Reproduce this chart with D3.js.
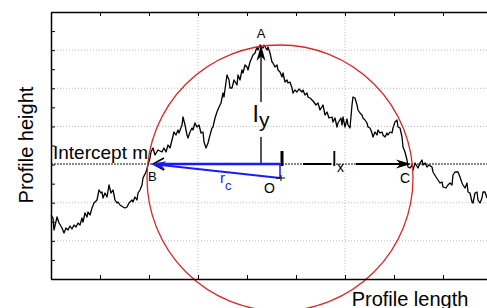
<!DOCTYPE html>
<html><head><meta charset="utf-8">
<script src="https://cdn.jsdelivr.net/npm/d3@7"></script>
<style>body{margin:0;background:#fff}svg{display:block}text{font-family:"Liberation Sans",Arial,sans-serif}</style>
</head><body>
<script>
// profile (x: profile length units, y: profile height units)
const profileX = [0,2,3,6,8,11,13,15,17,19,21,23,25,27,29,31,32,34,36,37,39,41,43,46,48,50,51,52,54,56,58,60,62,64,66,67,69,72,74,76,78,81,82,84,86,87,89,91,92,95,97,99,100,102,104,107,111,113,115,117,119,121,123,125,127,128,131,132,134,136,137,139,141,142,144,146,148,150,152,153,155,157,159,161,162,164,166,168,170,172,173,175,176,178,179,181,183,186,187,189,191,192,194,196,197,199,202,204,206,207,209,212,213,216,217,219,221,222,224,226,227,229,231,232,234,236,237,239,241,242,244,246,248,251,252,254,256,257,259,262,265,267,269,272,274,276,278,281,282,284,286,287,290,291,292,294,296,297,299,301,302,304,306,307,309,311,312,314,316,317,319,321,322,324,326,327,329,331,332,334,336,337,339,341,342,344,346,347,349,351,352,354,356,357,359,361,362,364,367,369,371,372,374,376,378,381,382,385,387,389,391,392,395,397,399,401,402,404,407,409,411,412,414,416,417,419,421,422,424,426,427,429,431,432,434,436];
const profileY = [64,61,49,62,56,51,46,51,49,53,50,54,52,56,54,61,57,66,62,67,64,71,76,79,89,86,87,81,86,82,94,86,89,79,76,77,74,72,71,72,76,79,77,82,79,86,89,94,101,107,114,121,127,131,124,129,127,131,127,134,131,139,147,144,149,146,154,162,154,144,141,147,151,149,156,152,154,146,147,137,131,136,144,151,152,161,167,172,176,186,182,197,204,199,191,191,199,194,204,199,209,206,214,212,209,217,224,226,232,229,234,231,234,229,232,226,217,216,212,214,209,207,202,206,197,199,196,197,191,186,189,187,190,187,189,184,186,182,181,178,174,176,169,174,164,167,161,162,157,161,152,156,161,154,162,152,160,154,151,174,182,181,174,169,166,164,161,159,156,152,151,146,142,147,144,149,146,147,144,142,146,144,147,146,151,157,159,152,151,142,132,127,119,112,111,114,109,116,111,116,119,114,116,112,114,112,107,102,99,96,97,92,91,94,96,94,104,107,107,102,96,94,91,96,87,86,77,76,86,87,79,76,81,87,87,81];

const interceptM = 115;
const pointA = [210, 234];
const pointB = [99, 115];
const pointC = [359, 115];
const centerO = [229, 101];
const radiusC = 133;
const xDomain = [0, 441];
const yDomain = [0, 267];
const xTickValues = d3.range(0, 442, 49);
const xGridValues = [147, 294];
const yGridValues = [1,2,3,4,5,6].map(k => k * 267 / 7);
const yTickValues = d3.range(0, 15).map(k => k * 267 / 14);

const W = 487, H = 308;
const svg = d3.select("body").append("svg").attr("width", W).attr("height", H);
const x = d3.scaleLinear().domain(xDomain).range([51, 492]);
const y = d3.scaleLinear().domain(yDomain).range([279, 12]);

// grid
svg.append("g").selectAll("line").data(xGridValues).join("line")
  .attr("x1", d => x(d)).attr("x2", d => x(d)).attr("y1", y(0)).attr("y2", y(267))
  .attr("stroke", "#bbb").attr("stroke-width", 1).attr("stroke-dasharray", "1,2");
svg.append("g").selectAll("line").data(yGridValues).join("line")
  .attr("x1", x(0)).attr("x2", W).attr("y1", d => y(d)).attr("y2", d => y(d))
  .attr("stroke", "#bbb").attr("stroke-width", 1).attr("stroke-dasharray", "1,2");

// intercept line
svg.append("line").attr("x1", x(0)).attr("x2", W).attr("y1", y(interceptM)).attr("y2", y(interceptM))
  .attr("stroke", "#666").attr("stroke-width", 1.5).attr("stroke-dasharray", "2,1");

// profile
const line = d3.line().x((d, i) => x(profileX[i])).y(d => y(d));
svg.append("path").datum(profileY).attr("d", line).attr("fill", "none")
  .attr("stroke", "#000").attr("stroke-width", 1.3).attr("stroke-linejoin", "round");

// circle
svg.append("circle").attr("cx", x(centerO[0])).attr("cy", y(centerO[1]))
  .attr("r", x(radiusC) - x(0)).attr("fill", "none").attr("stroke", "#d42a2a").attr("stroke-width", 1.3);

function arrowHead(tx, ty, dx, dy, L, w, color) {
  const bx = tx - dx * L, by = ty - dy * L;
  const nx = -dy, ny = dx;
  const ix = tx - dx * L * 0.7, iy = ty - dy * L * 0.7;
  svg.append("path")
    .attr("d", `M${tx},${ty}L${bx + nx * w},${by + ny * w}L${ix},${iy}L${bx - nx * w},${by - ny * w}Z`)
    .attr("fill", color);
}

// l_y arrow (gray)
const ax = x(pointA[0]);
svg.append("line").attr("x1", ax).attr("x2", ax).attr("y1", y(interceptM)).attr("y2", y(142))
  .attr("stroke", "#555").attr("stroke-width", 2);
svg.append("line").attr("x1", ax).attr("x2", ax).attr("y1", y(177)).attr("y2", y(pointA[1]) + 10)
  .attr("stroke", "#555").attr("stroke-width", 2);
arrowHead(ax, y(pointA[1]), 0, -1, 16, 4.5, "#000");

// l_x arrow (black)
svg.append("line").attr("x1", x(231)).attr("x2", x(231)).attr("y1", y(128)).attr("y2", y(113))
  .attr("stroke", "#000").attr("stroke-width", 3);
svg.append("line").attr("x1", x(252)).attr("x2", x(280)).attr("y1", y(interceptM)).attr("y2", y(interceptM))
  .attr("stroke", "#000").attr("stroke-width", 2);
svg.append("line").attr("x1", x(305)).attr("x2", x(pointC[0]) - 8).attr("y1", y(interceptM)).attr("y2", y(interceptM))
  .attr("stroke", "#000").attr("stroke-width", 2);
arrowHead(x(pointC[0]) + 1, y(interceptM), 1, 0, 15, 4.5, "#000");
// black chevron at B
const bx = x(pointB[0]) + 3, by = y(interceptM);
svg.append("path").attr("d", `M${bx + 11},${by - 6}L${bx},${by}L${bx + 11},${by + 6}`)
  .attr("fill", "none").attr("stroke", "#000").attr("stroke-width", 1.5);

// blue r_c construction
const blue = "#1a1aff";
svg.append("line").attr("x1", x(pointB[0]) + 8).attr("x2", x(centerO[0])).attr("y1", y(interceptM)).attr("y2", y(interceptM))
  .attr("stroke", blue).attr("stroke-width", 2.5);
svg.append("line").attr("x1", x(centerO[0])).attr("x2", x(centerO[0])).attr("y1", y(interceptM)).attr("y2", y(centerO[1]))
  .attr("stroke", blue).attr("stroke-width", 1.5);
const ox = x(centerO[0]), oy = y(centerO[1]);
const tbx = x(pointB[0]) + 1, tby = y(interceptM);
const len = Math.hypot(tbx - ox, tby - oy);
const ux = (tbx - ox) / len, uy = (tby - oy) / len;
svg.append("line").attr("x1", ox).attr("y1", oy).attr("x2", tbx - ux * 10).attr("y2", tby - uy * 10)
  .attr("stroke", blue).attr("stroke-width", 2);
arrowHead(tbx, tby, ux, uy, 15, 4.5, blue);

// plus marker at O
svg.append("path").attr("d", `M${ox - 4},${oy}H${ox + 5}M${ox + 1},${oy - 3}V${oy + 3}`)
  .attr("stroke", "#000").attr("stroke-width", 1);

// labels
svg.append("text").attr("x", 53).attr("y", 159).attr("font-size", 19).text("Intercept m");
svg.append("text").attr("x", ax).attr("y", y(pointA[1]) - 7).attr("text-anchor", "middle").attr("font-size", 13).text("A");
svg.append("text").attr("x", x(pointB[0]) - 2).attr("y", 181).attr("font-size", 13).text("B");
svg.append("text").attr("x", x(pointC[0]) - 10).attr("y", 183).attr("font-size", 14).text("C");
svg.append("text").attr("x", ox - 16).attr("y", 193).attr("font-size", 14).text("O");
svg.append("text").attr("x", 253).attr("y", 122).attr("font-size", 24).text("l");
svg.append("text").attr("x", 259).attr("y", 127).attr("font-size", 21).text("y");
svg.append("text").attr("x", 332).attr("y", 166).attr("font-size", 20).text("l");
svg.append("text").attr("x", 337).attr("y", 172).attr("font-size", 14).text("x");
svg.append("text").attr("x", 220).attr("y", 183).attr("font-size", 15).attr("fill", blue).text("r");
svg.append("text").attr("x", 225).attr("y", 190).attr("font-size", 13).attr("fill", blue).text("c");

// axes
const gB = svg.append("g").attr("transform", `translate(0,${y(0)})`)
  .call(d3.axisBottom(x).tickValues(xTickValues).tickSize(-4).tickSizeOuter(0).tickFormat(""));
const gT = svg.append("g").attr("transform", `translate(0,${y(267)})`)
  .call(d3.axisTop(x).tickValues(xTickValues).tickSize(-4).tickSizeOuter(0).tickFormat(""));
const gL = svg.append("g").attr("transform", `translate(${x(0)},0)`)
  .call(d3.axisLeft(y).tickValues(yTickValues).tickSize(-4).tickSizeOuter(0).tickFormat(""));
[gB, gT, gL].forEach(g => {
  g.select(".domain").attr("stroke", "#000").attr("stroke-width", 1.5);
  g.selectAll(".tick line").attr("stroke", "#000");
});

svg.append("text").attr("x", 410).attr("y", 306).attr("text-anchor", "middle").attr("font-size", 20).text("Profile length");
svg.append("text").attr("transform", "translate(33,145) rotate(-90)").attr("text-anchor", "middle").attr("font-size", 20).text("Profile height");
</script>
</body></html>
